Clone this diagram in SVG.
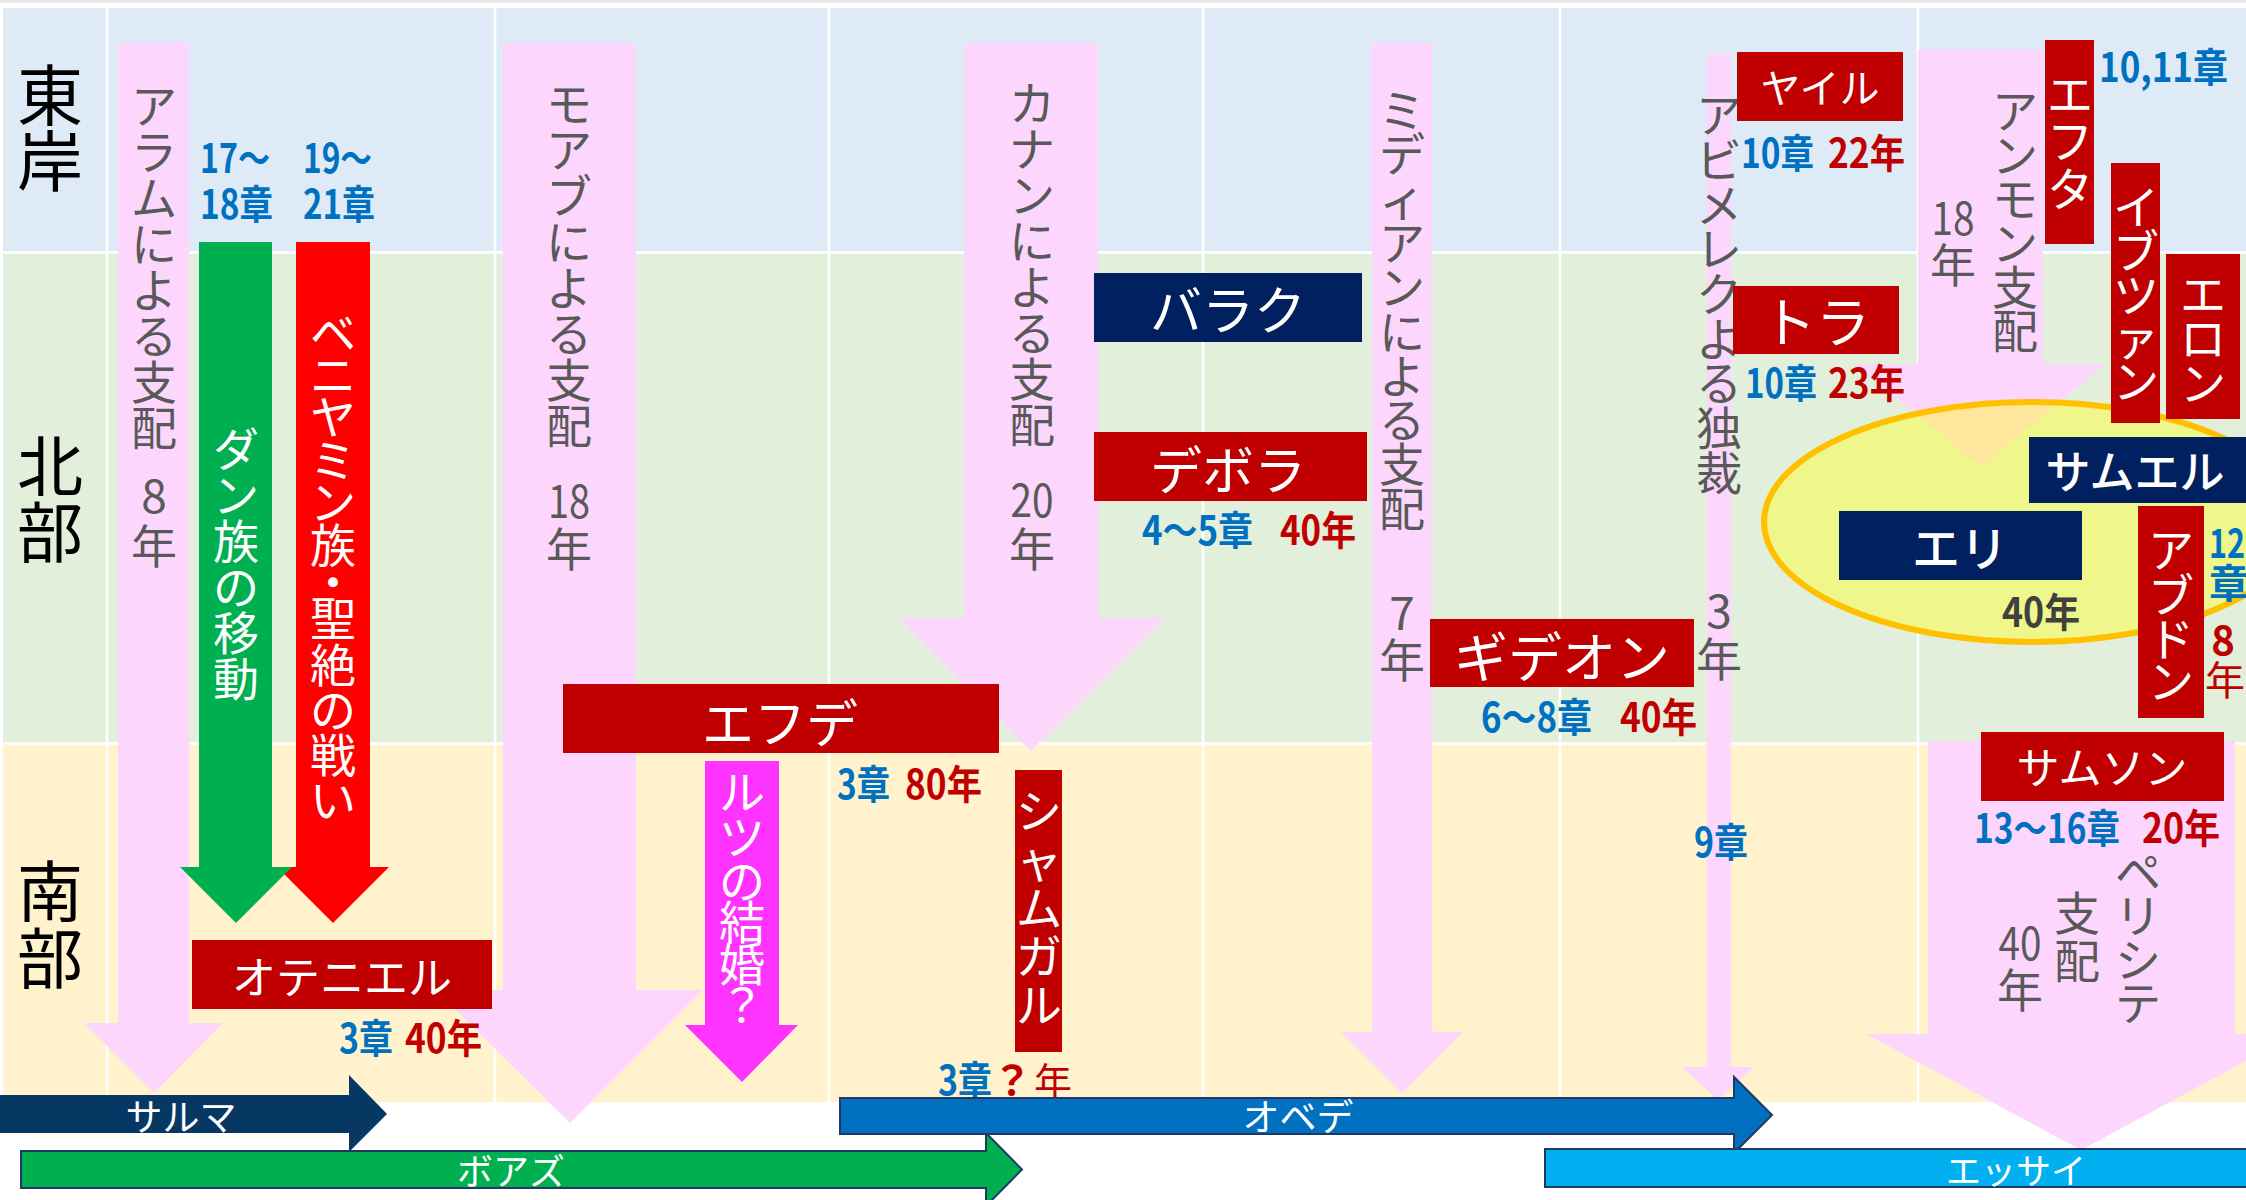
<svg xmlns="http://www.w3.org/2000/svg" width="2246" height="1200" viewBox="0 0 2246 1200">
<defs>
<style>
text{font-family:"Noto Sans CJK JP","Noto Sans",sans-serif}
.gv{fill:#595959;font-size:46px;text-anchor:middle}
.wv{fill:#fff;font-size:46px;text-anchor:middle}
.wh{fill:#fff;text-anchor:middle}
.lb{font-weight:700;font-size:40px}
.bl{fill:#0070c0}
.rd{fill:#c00000}
.pk{fill:#fdd6fd}
.dr{fill:#c00000}
.nv{fill:#002060}
.rl{font-size:66px;fill:#000;text-anchor:middle}
.grid line{stroke:#fff;stroke-width:2.5}
.tl{stroke:#1f3864;stroke-width:2}
</style>
<clipPath id="elc"><ellipse cx="2032" cy="522" rx="268" ry="120"/></clipPath>
</defs>
<rect width="2246" height="1200" fill="#fff"/>
<rect x="0" y="0" width="2246" height="2.5" fill="#e7e6e6"/>
<g id="grid" class="grid">
<rect x="3" y="8" width="2243" height="245" fill="#deebf7"/>
<rect x="3" y="253" width="2243" height="491" fill="#e2efda"/>
<rect x="3" y="744" width="2243" height="358" fill="#fff2cc"/>
<line x1="3" y1="252.5" x2="2246" y2="252.5"/>
<line x1="3" y1="743.5" x2="2246" y2="743.5"/>
<line x1="107" y1="8" x2="107" y2="1102"/>
<line x1="495" y1="8" x2="495" y2="1102"/>
<line x1="829" y1="8" x2="829" y2="1102"/>
<line x1="1203" y1="8" x2="1203" y2="1102"/>
<line x1="1560" y1="8" x2="1560" y2="1102"/>
<line x1="1918" y1="8" x2="1918" y2="1102"/>
</g>
<g id="row-labels">
<text class="rl" x="50 50" y="120 186">東岸</text>
<text class="rl" x="50 50" y="491 557">北部</text>
<text class="rl" x="50 50" y="916 983">南部</text>
</g>
<g id="connectors">
<g id="aram"><polygon class="pk" points="118,43 189,43 189,1023 223,1023 154,1093 84,1023 118,1023"/>
<text class="gv" x="154 154 154 154 154 154 154 154" y="123 169 215 261 307 353 399 445">アラムによる支配</text>
<text class="gv" x="154" y="513">8</text><text class="gv" x="154" y="563">年</text></g>
<g id="moab"><polygon class="pk" points="503,43 636,43 636,990 703,990 570,1123 436,990 503,990"/>
<text class="gv" x="569 569 569 569 569 569 569 569" y="121 167 213 259 305 351 397 443">モアブによる支配</text>
<text class="gv" x="569" y="518" textLength="42" lengthAdjust="spacingAndGlyphs">18</text><text class="gv" x="569" y="566">年</text></g>
<g id="canaan"><polygon class="pk" points="964,43 1098,43 1098,618 1164,618 1031,751 898,618 964,618"/>
<text class="gv" x="1032 1032 1032 1032 1032 1032 1032 1032" y="120 166 212 258 304 350 396 442">カナンによる支配</text>
<text class="gv" x="1032" y="517" textLength="43" lengthAdjust="spacingAndGlyphs">20</text><text class="gv" x="1032" y="566">年</text></g>
<g id="midian"><polygon class="pk" points="1372,43 1432,43 1432,1032 1463,1032 1402,1093 1341,1032 1372,1032"/>
<text class="gv" font-size="45" x="1402 1402 1402 1402 1402 1402 1402 1402 1402 1402" y="127 171 216 260 304 349 393 437 481 526">ミディアンによる支配</text>
<text class="gv" font-size="45" x="1402" y="630">7</text><text class="gv" font-size="45" x="1402" y="677">年</text></g>
<g id="abimelech"><polygon class="pk" points="1707,53 1731,53 1731,1067 1754,1067 1718,1100 1682,1067 1707,1067"/>
<text class="gv" font-size="45" x="1719 1719 1719 1719 1719 1719 1719 1719 1719" y="132 177 222 266 311 356 400 445 490">アビメレクよる独裁</text>
<text class="gv" font-size="45" x="1719" y="628">3</text><text class="gv" font-size="45" x="1719" y="676">年</text></g>
<g id="ammon"><polygon class="pk" points="1918,50 2043,50 2043,364 2106,364 1981,467 1855,364 1918,364"/>
<text class="gv" font-size="44" x="2015 2015 2015 2015 2015 2015" y="128 172 216 260 304 348">アンモン支配</text>
<text class="gv" font-size="44" x="1953" y="235" textLength="43" lengthAdjust="spacingAndGlyphs">18</text><text class="gv" font-size="44" x="1953" y="282">年</text></g>
<g id="philistia"><polygon class="pk" points="1928,741 2235,741 2235,1034 2296,1034 2081,1150 1866,1034 1928,1034"/>
<text class="gv" font-size="44" x="2138 2138 2138 2138" y="889 933 977 1020">ペリシテ</text>
<text class="gv" x="2077 2077" y="930 978">支配</text>
<text class="gv" x="2020" y="960" textLength="43" lengthAdjust="spacingAndGlyphs">40</text><text class="gv" x="2020" y="1007">年</text></g>
</g>
<g id="dan">
<polygon fill="#ff0000" points="296,242 370,242 370,867 389,867 333,923 277,867 296,867"/>
<polygon fill="#00b050" points="199,242 272,242 272,867 292,867 236,923 180,867 199,867"/>
<text class="wv" x="236 236 236 236 236 236" y="466 512 558 604 650 696">ダン族の移動</text>
<text class="wv" font-size="45" x="333 333 333 333 333 333 333 333 333 333 333 333" y="350 392 434 477 519 562 599 635 682 727 772 817">ベニヤミン族・聖絶の戦い</text>
<text class="lb bl" x="200" y="173" textLength="70" lengthAdjust="spacingAndGlyphs">17～</text>
<text class="lb bl" x="200" y="219" textLength="73" lengthAdjust="spacingAndGlyphs">18章</text>
<text class="lb bl" x="303" y="173" textLength="69" lengthAdjust="spacingAndGlyphs">19～</text>
<text class="lb bl" x="303" y="219" textLength="72" lengthAdjust="spacingAndGlyphs">21章</text>
</g>
<g id="ruth">
<polygon fill="#ff33ff" points="705,761 779,761 779,1025 798,1025 742,1082 685,1025 705,1025"/>
<text class="wv" font-size="42" x="742 742 742 742 742 742" y="809 854 898 939 981 1022">ルツの結婚？</text>
</g>
<g id="othniel"><rect class="dr" x="192" y="940" width="300" height="69"/>
<text class="wh" x="342" y="994" font-size="44">オテニエル</text>
<text class="lb bl" x="339" y="1053" textLength="54" lengthAdjust="spacingAndGlyphs">3章</text>
<text class="lb rd" x="405" y="1053" textLength="77" lengthAdjust="spacingAndGlyphs">40年</text></g>
<g id="ehud"><rect class="dr" x="563" y="684" width="436" height="69"/>
<text class="wh" x="780" y="743" font-size="52">エフデ</text>
<text class="lb bl" x="837" y="799" textLength="53" lengthAdjust="spacingAndGlyphs">3章</text>
<text class="lb rd" x="905" y="799" textLength="77" lengthAdjust="spacingAndGlyphs">80年</text></g>
<g id="shamgar"><rect class="dr" x="1015" y="770" width="47" height="282"/>
<text class="wv" font-size="47" x="1039 1039 1039 1039 1039" y="828 877 925 973 1022">シャムガル</text>
<text class="lb bl" x="938" y="1095" textLength="54" lengthAdjust="spacingAndGlyphs">3章</text>
<text class="lb rd" x="1012" y="1095" font-size="42" text-anchor="middle">？</text>
<text class="rd" x="1034" y="1095" font-size="38">年</text></g>
<g id="barak"><rect class="nv" x="1094" y="273" width="268" height="69"/>
<text class="wh" x="1228" y="330" font-size="52">バラク</text></g>
<g id="deborah"><rect class="dr" x="1094" y="432" width="273" height="69"/>
<text class="wh" x="1228" y="490" font-size="52">デボラ</text>
<text class="lb bl" x="1142" y="545" textLength="111" lengthAdjust="spacingAndGlyphs">4～5章</text>
<text class="lb rd" x="1280" y="545" textLength="76" lengthAdjust="spacingAndGlyphs">40年</text></g>
<g id="gideon"><rect class="dr" x="1430" y="619" width="264" height="68"/>
<text class="wh" x="1562" y="678" font-size="54">ギデオン</text>
<text class="lb bl" x="1481" y="732" textLength="111" lengthAdjust="spacingAndGlyphs">6～8章</text>
<text class="lb rd" x="1620" y="732" textLength="77" lengthAdjust="spacingAndGlyphs">40年</text></g>
<g id="ch9"><text class="lb bl" x="1694" y="857" textLength="54" lengthAdjust="spacingAndGlyphs">9章</text></g>
<g id="jair"><rect class="dr" x="1737" y="52" width="166" height="69"/>
<text class="wh" x="1820" y="103" font-size="40">ヤイル</text>
<text class="lb bl" x="1741" y="168" textLength="73" lengthAdjust="spacingAndGlyphs">10章</text>
<text class="lb rd" x="1828" y="168" textLength="77" lengthAdjust="spacingAndGlyphs">22年</text></g>
<g id="tola"><rect class="dr" x="1733" y="286" width="166" height="68"/>
<text class="wh" x="1816" y="343" font-size="54">トラ</text>
<text class="lb bl" x="1745" y="398" textLength="72" lengthAdjust="spacingAndGlyphs">10章</text>
<text class="lb rd" x="1828" y="398" textLength="77" lengthAdjust="spacingAndGlyphs">23年</text></g>
<g id="eli-era">
<ellipse cx="2032" cy="522" rx="268" ry="120" fill="#eff68a"/>
<polygon clip-path="url(#elc)" fill="#fee79c" points="1918,50 2043,50 2043,364 2106,364 1981,467 1855,364 1918,364"/>
<ellipse cx="2032" cy="522" rx="268" ry="120" fill="none" stroke="#ffc000" stroke-width="6"/>
</g>
<g id="jephthah"><rect class="dr" x="2045" y="40" width="49" height="204"/>
<text class="wv" font-size="48" x="2070 2070 2070" y="111 158 206">エフタ</text>
<text class="lb bl" x="2099" y="82" textLength="129" lengthAdjust="spacingAndGlyphs">10,11章</text></g>
<g id="ibzan"><rect class="dr" x="2111" y="163" width="49" height="260"/>
<text class="wv" x="2136 2136 2136 2136 2136" y="224 268 312 355 398">イブツァン</text></g>
<g id="elon"><rect class="dr" x="2166" y="254" width="74" height="165"/>
<text class="wv" x="2203 2203 2203" y="311 355 400">エロン</text></g>
<g id="eli"><rect class="nv" x="1839" y="511" width="243" height="69"/>
<text class="wh" x="1960" y="566" font-size="48" font-weight="500">エリ</text>
<text class="lb" fill="#404040" x="2002" y="627" textLength="78" lengthAdjust="spacingAndGlyphs">40年</text></g>
<g id="samuel"><rect class="nv" x="2029" y="437" width="217" height="66"/>
<text class="wh" x="2135" y="489" font-size="45" font-weight="500">サムエル</text></g>
<g id="abdon"><rect class="dr" x="2138" y="506" width="66" height="212"/>
<text class="wv" x="2171 2171 2171 2171" y="567 612 656 698">アブドン</text>
<text class="lb bl" x="2209" y="558" textLength="36" lengthAdjust="spacingAndGlyphs">12</text>
<text class="lb bl" x="2209" y="598">章</text>
<text class="lb rd" x="2223" y="655" text-anchor="middle">8</text>
<text class="rd" x="2205" y="695" font-size="40">年</text></g>
<g id="samson"><rect class="dr" x="1981" y="732" width="243" height="69"/>
<text class="wh" x="2102" y="784" font-size="43">サムソン</text>
<text class="lb bl" x="1974" y="843" textLength="146" lengthAdjust="spacingAndGlyphs">13～16章</text>
<text class="lb rd" x="2142" y="843" textLength="78" lengthAdjust="spacingAndGlyphs">20年</text></g>
<g id="salma"><polygon fill="#073763" points="0,1095 349,1095 349,1075 387,1114 349,1152 349,1133 0,1133"/>
<text class="wh" x="181" y="1131" font-size="37">サルマ</text></g>
<g id="boaz"><polygon class="tl" fill="#00b050" points="21,1151 986,1151 986,1133 1022,1169.5 986,1206 986,1188 21,1188"/>
<text class="wh" x="511" y="1185" font-size="36">ボアズ</text></g>
<g id="obed"><polygon class="tl" fill="#0070c0" points="840,1098 1734,1098 1734,1077 1772,1115 1734,1153 1734,1134 840,1134"/>
<text class="wh" x="1298" y="1131" font-size="37">オベデ</text></g>
<g id="jesse"><rect class="tl" fill="#00b0f0" x="1545" y="1149" width="720" height="38"/>
<text class="wh" x="2016" y="1184" font-size="35">エッサイ</text></g>
</svg>
